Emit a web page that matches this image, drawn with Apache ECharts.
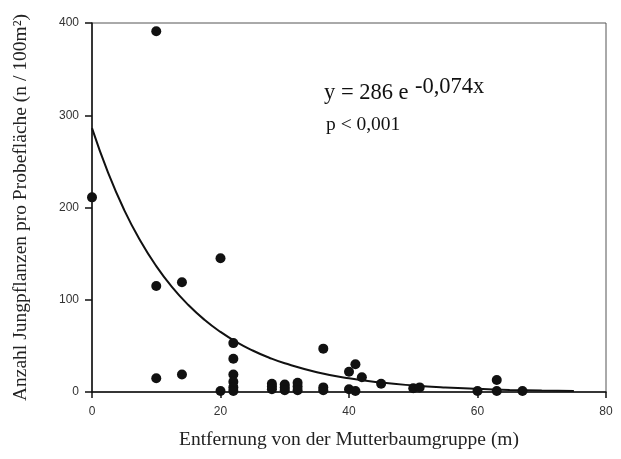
<!DOCTYPE html>
<html><head><meta charset="utf-8">
<script src="https://cdn.jsdelivr.net/npm/echarts@6/dist/echarts.min.js"></script>
<style>html,body{margin:0;padding:0;background:#fff}#c{width:621px;height:459px}</style>
</head><body><div id="c"></div>
<script>
// Observed points: distance (m), count (n / 100 m²)
const pointX = [0, 10, 10, 10, 14, 14, 20, 20, 22, 22, 22, 22, 22, 22, 28, 28, 28, 30, 30, 30, 32, 32, 32, 36, 36, 36, 40, 40, 41, 41, 42, 45, 50, 51, 60, 63, 63, 67];
const pointY = [211, 391, 115, 15, 119, 19, 145, 1, 53, 36, 19, 11, 5, 1, 9, 6, 3, 8, 5, 2, 10, 6, 2, 47, 5, 2, 22, 3, 30, 1, 16, 9, 4, 5, 1, 13, 1, 1];
// Fitted curve
const curveX = [0, 2.5, 5, 7.5, 10, 12.5, 15, 17.5, 20, 22.5, 25, 27.5, 30, 35, 40, 45, 50, 55, 60, 65, 70, 75];
const curveY = [286, 237.7, 197.5, 164.2, 136.5, 113.4, 94.3, 78.3, 65.1, 54.1, 45.0, 37.4, 31.1, 21.5, 14.8, 10.2, 7.1, 4.9, 3.4, 2.3, 1.6, 1.1];
const xTicks = [0, 20, 40, 60, 80];
const yTicks = [0, 100, 200, 300, 400];

const chart = echarts.init(document.getElementById('c'));
const axisLbl = {fontFamily: 'Liberation Sans', fontSize: 12, color: '#333'};
chart.setOption({
  animation: false,
  grid: {left: 92, right: 15, top: 23, bottom: 67, show: true, borderColor: '#555', borderWidth: 1},
  xAxis: {
    type: 'value', min: xTicks[0], max: xTicks[xTicks.length - 1], interval: 20,
    axisLine: {show: true, onZero: false, lineStyle: {color: '#111', width: 1.5}},
    axisTick: {show: true, length: 6, lineStyle: {color: '#111', width: 1.5}},
    axisLabel: Object.assign({margin: 14}, axisLbl),
    splitLine: {show: false},
    name: 'Entfernung von der Mutterbaumgruppe (m)', nameLocation: 'middle', nameGap: 38,
    nameTextStyle: {fontFamily: 'Liberation Serif', fontSize: 19.5, color: '#222'}
  },
  yAxis: {
    type: 'value', min: yTicks[0], max: yTicks[yTicks.length - 1], interval: 100,
    axisLine: {show: true, onZero: false, lineStyle: {color: '#111', width: 1.5}},
    axisTick: {show: true, length: 7, lineStyle: {color: '#111', width: 1.5}},
    axisLabel: Object.assign({margin: 13}, axisLbl),
    splitLine: {show: false},
    name: 'Anzahl Jungpflanzen pro Probefläche (n / 100m²)', nameLocation: 'middle', nameGap: 61,
    nameTextStyle: {fontFamily: 'Liberation Serif', fontSize: 19.5, color: '#222'}
  },
  series: [
    {type: 'line', data: curveX.map((x, i) => [x, curveY[i]]), smooth: true, showSymbol: false,
     lineStyle: {color: '#111', width: 2}, z: 2},
    {type: 'scatter', data: pointX.map((x, i) => [x, pointY[i]]), symbolSize: 10,
     itemStyle: {color: '#111', opacity: 1}, z: 3}
  ],
  graphic: [
    {type: 'text', left: 324, top: 82, style: {text: 'y = 286 e', fontFamily: 'Liberation Serif', fontSize: 22.5, fill: '#111'}},
    {type: 'text', left: 415, top: 76, style: {text: '-0,074x', fontFamily: 'Liberation Serif', fontSize: 22.5, fill: '#111'}},
    {type: 'text', left: 326, top: 115, style: {text: 'p < 0,001', fontFamily: 'Liberation Serif', fontSize: 19.5, fill: '#111'}}
  ]
});
</script></body></html>
